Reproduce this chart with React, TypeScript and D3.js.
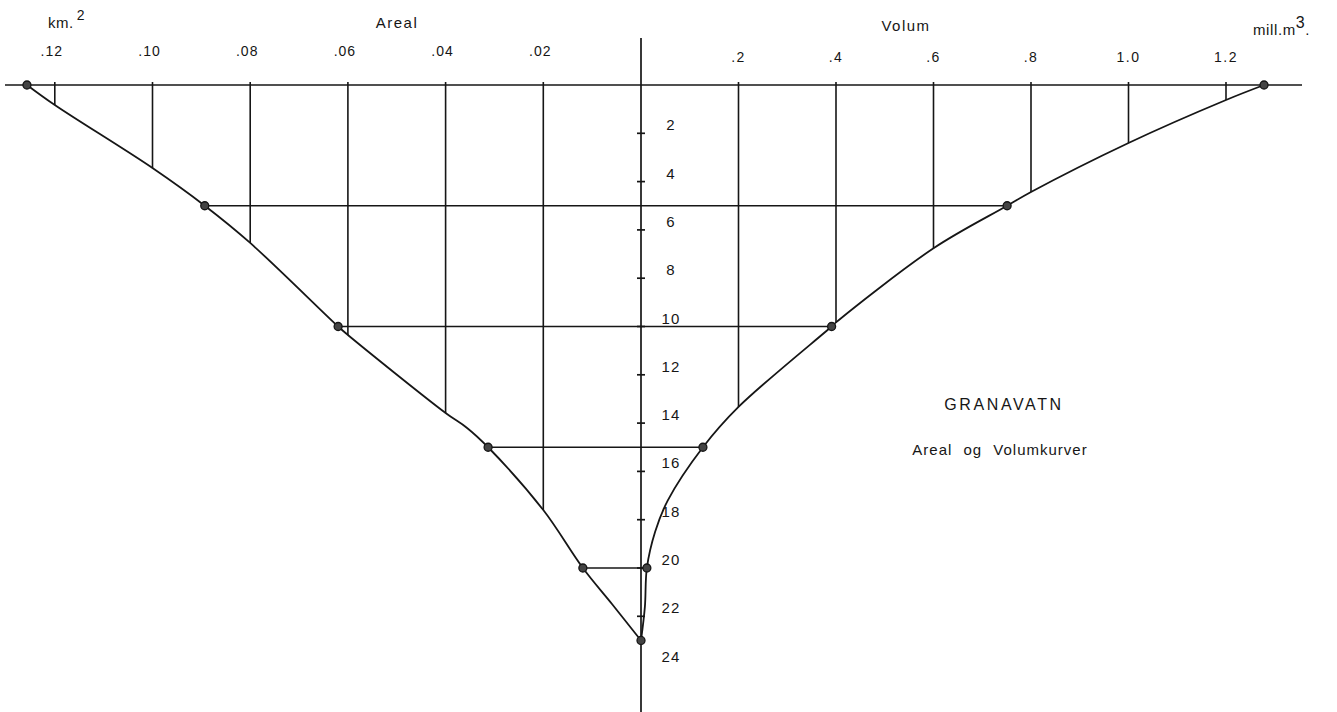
import React from 'react';
import * as d3 from 'd3';

// marked points on the two curves (depth in m)
const depthMarks = [0, 5, 10, 15, 20, 23];
const arealAtMarks = [0.1257, 0.0893, 0.062, 0.0313, 0.0119, 0];
const volumAtMarks = [1.278, 0.751, 0.391, 0.127, 0.012, 0];

// vertical grid lines and the depth where each one meets its curve
const arealTicks = [0.12, 0.1, 0.08, 0.06, 0.04, 0.02];
const arealTickLabels = ['.12', '.10', '.08', '.06', '.04', '.02'];
const arealTickDepths = [0.83, 3.44, 6.54, 10.35, 13.58, 17.6];

const volumTicks = [0.2, 0.4, 0.6, 0.8, 1.0, 1.2];
const volumTickLabels = ['.2', '.4', '.6', '.8', '1.0', '1.2'];
const volumTickDepths = [13.33, 9.83, 6.76, 4.43, 2.4, 0.62];

// a few further readings along the curves
const arealExtraDepths = [14.2, 21.5];
const arealExtraValues = [0.0356, 0.0059];
const volumExtraDepths = [17.2, 18.5, 21.6];
const volumExtraValues = [0.055, 0.029, 0.008];

const depthTicks = [2, 4, 6, 8, 10, 12, 14, 16, 18, 20, 22];
const depthLabels = [2, 4, 6, 8, 10, 12, 14, 16, 18, 20, 22, 24];

const FONT = "'Liberation Sans', Arial, Helvetica, sans-serif";
const INK = '#161616';

type Pt = { d: number; v: number };

const collect = (ds: number[], vs: number[]): Pt[] => ds.map((d, i) => ({ d, v: vs[i] }));

const App = () => {
  const width = 1337;
  const height = 712;
  const x0 = 641;

  const y = d3.scaleLinear().domain([0, 24]).range([85, 664.6]);
  const xA = d3.scaleLinear().domain([0, 0.13]).range([x0, x0 - 0.13 * 4885]);
  const xV = d3.scaleLinear().domain([0, 1.3]).range([x0, x0 + 1.3 * 487.5]);

  const arealPts = [
    ...collect(depthMarks, arealAtMarks),
    ...collect(arealTickDepths, arealTicks),
    ...collect(arealExtraDepths, arealExtraValues),
  ].sort((a, b) => a.d - b.d);
  const volumPts = [
    ...collect(depthMarks, volumAtMarks),
    ...collect(volumTickDepths, volumTicks),
    ...collect(volumExtraDepths, volumExtraValues),
  ].sort((a, b) => a.d - b.d);

  const arealLine = d3.line<Pt>().x(p => xA(p.v)).y(p => y(p.d)).curve(d3.curveCatmullRom.alpha(0.5));
  const volumLine = d3.line<Pt>().x(p => xV(p.v)).y(p => y(p.d)).curve(d3.curveCatmullRom.alpha(0.5));

  const top = y(0);

  return (
    <svg
      width={width}
      height={height}
      style={{ position: 'absolute', left: 0, top: 0, background: '#fff' }}
      fontFamily={FONT}
    >
      {/* top line and centre depth axis */}
      <line x1={5} x2={1302} y1={top} y2={top} stroke={INK} strokeWidth={1.7} />
      <line x1={x0} x2={x0} y1={38} y2={height} stroke={INK} strokeWidth={1.7} />
      {depthTicks.map(d => (
        <line key={'dt' + d} x1={x0 - 4} x2={x0 + 4} y1={y(d)} y2={y(d)} stroke={INK} strokeWidth={1.7} />
      ))}
      {depthLabels.map(d => (
        <text key={'dl' + d} x={671} y={y(d) - 3} textAnchor="middle" fontSize={15} fill={INK} letterSpacing={1.2}>
          {d}
        </text>
      ))}

      {/* vertical grid lines down to the curves */}
      {arealTicks.map((a, i) => (
        <line key={'ag' + i} x1={xA(a)} x2={xA(a)} y1={top - 3} y2={y(arealTickDepths[i])} stroke={INK} strokeWidth={1.6} />
      ))}
      {volumTicks.map((v, i) => (
        <line key={'vg' + i} x1={xV(v)} x2={xV(v)} y1={top - 3} y2={y(volumTickDepths[i])} stroke={INK} strokeWidth={1.6} />
      ))}

      {/* horizontal lines joining the marked points */}
      {depthMarks.slice(1, -1).map((d, i) => (
        <line
          key={'h' + d}
          x1={xA(arealAtMarks[i + 1])}
          x2={xV(volumAtMarks[i + 1])}
          y1={y(d)}
          y2={y(d)}
          stroke={INK}
          strokeWidth={1.6}
        />
      ))}

      {/* curves */}
      <path d={arealLine(arealPts) || ''} fill="none" stroke={INK} strokeWidth={1.8} />
      <path d={volumLine(volumPts) || ''} fill="none" stroke={INK} strokeWidth={1.8} />

      {/* marked points */}
      {depthMarks.map((d, i) => (
        <g key={'m' + d}>
          <circle cx={xA(arealAtMarks[i])} cy={y(d)} r={4} fill="#444" stroke={INK} strokeWidth={1.3} />
          {arealAtMarks[i] > 0 && (
            <circle cx={xV(volumAtMarks[i])} cy={y(d)} r={4} fill="#444" stroke={INK} strokeWidth={1.3} />
          )}
        </g>
      ))}

      {/* tick labels */}
      {arealTicks.map((a, i) => (
        <text key={'al' + i} x={xA(a) - 3} y={56} textAnchor="middle" fontSize={14} fill={INK} letterSpacing={1}>
          {arealTickLabels[i]}
        </text>
      ))}
      {volumTicks.map((v, i) => (
        <text key={'vl' + i} x={xV(v)} y={62} textAnchor="middle" fontSize={14} fill={INK} letterSpacing={1.5}>
          {volumTickLabels[i]}
        </text>
      ))}

      {/* axis titles and units */}
      <text x={48} y={28} fontSize={15} fill={INK} letterSpacing={0.5}>
        km.
        <tspan dx={3} dy={-8} fontSize={14}>2</tspan>
      </text>
      <text x={397} y={28} textAnchor="middle" fontSize={15} fill={INK} letterSpacing={1.5}>Areal</text>
      <text x={906} y={31} textAnchor="middle" fontSize={15} fill={INK} letterSpacing={1.5}>Volum</text>
      <text x={1253} y={35} fontSize={15} fill={INK} letterSpacing={0.6}>
        mill.m
        <tspan dy={-7} fontSize={16}>3</tspan>
        <tspan dy={7}>.</tspan>
      </text>

      {/* title block */}
      <text x={1004} y={410} textAnchor="middle" fontSize={16} fill={INK} letterSpacing={2.6}>GRANAVATN</text>
      <text x={1000} y={455} textAnchor="middle" fontSize={15} fill={INK} letterSpacing={1} wordSpacing={6}>
        Areal og Volumkurver
      </text>
    </svg>
  );
};

export default App;
